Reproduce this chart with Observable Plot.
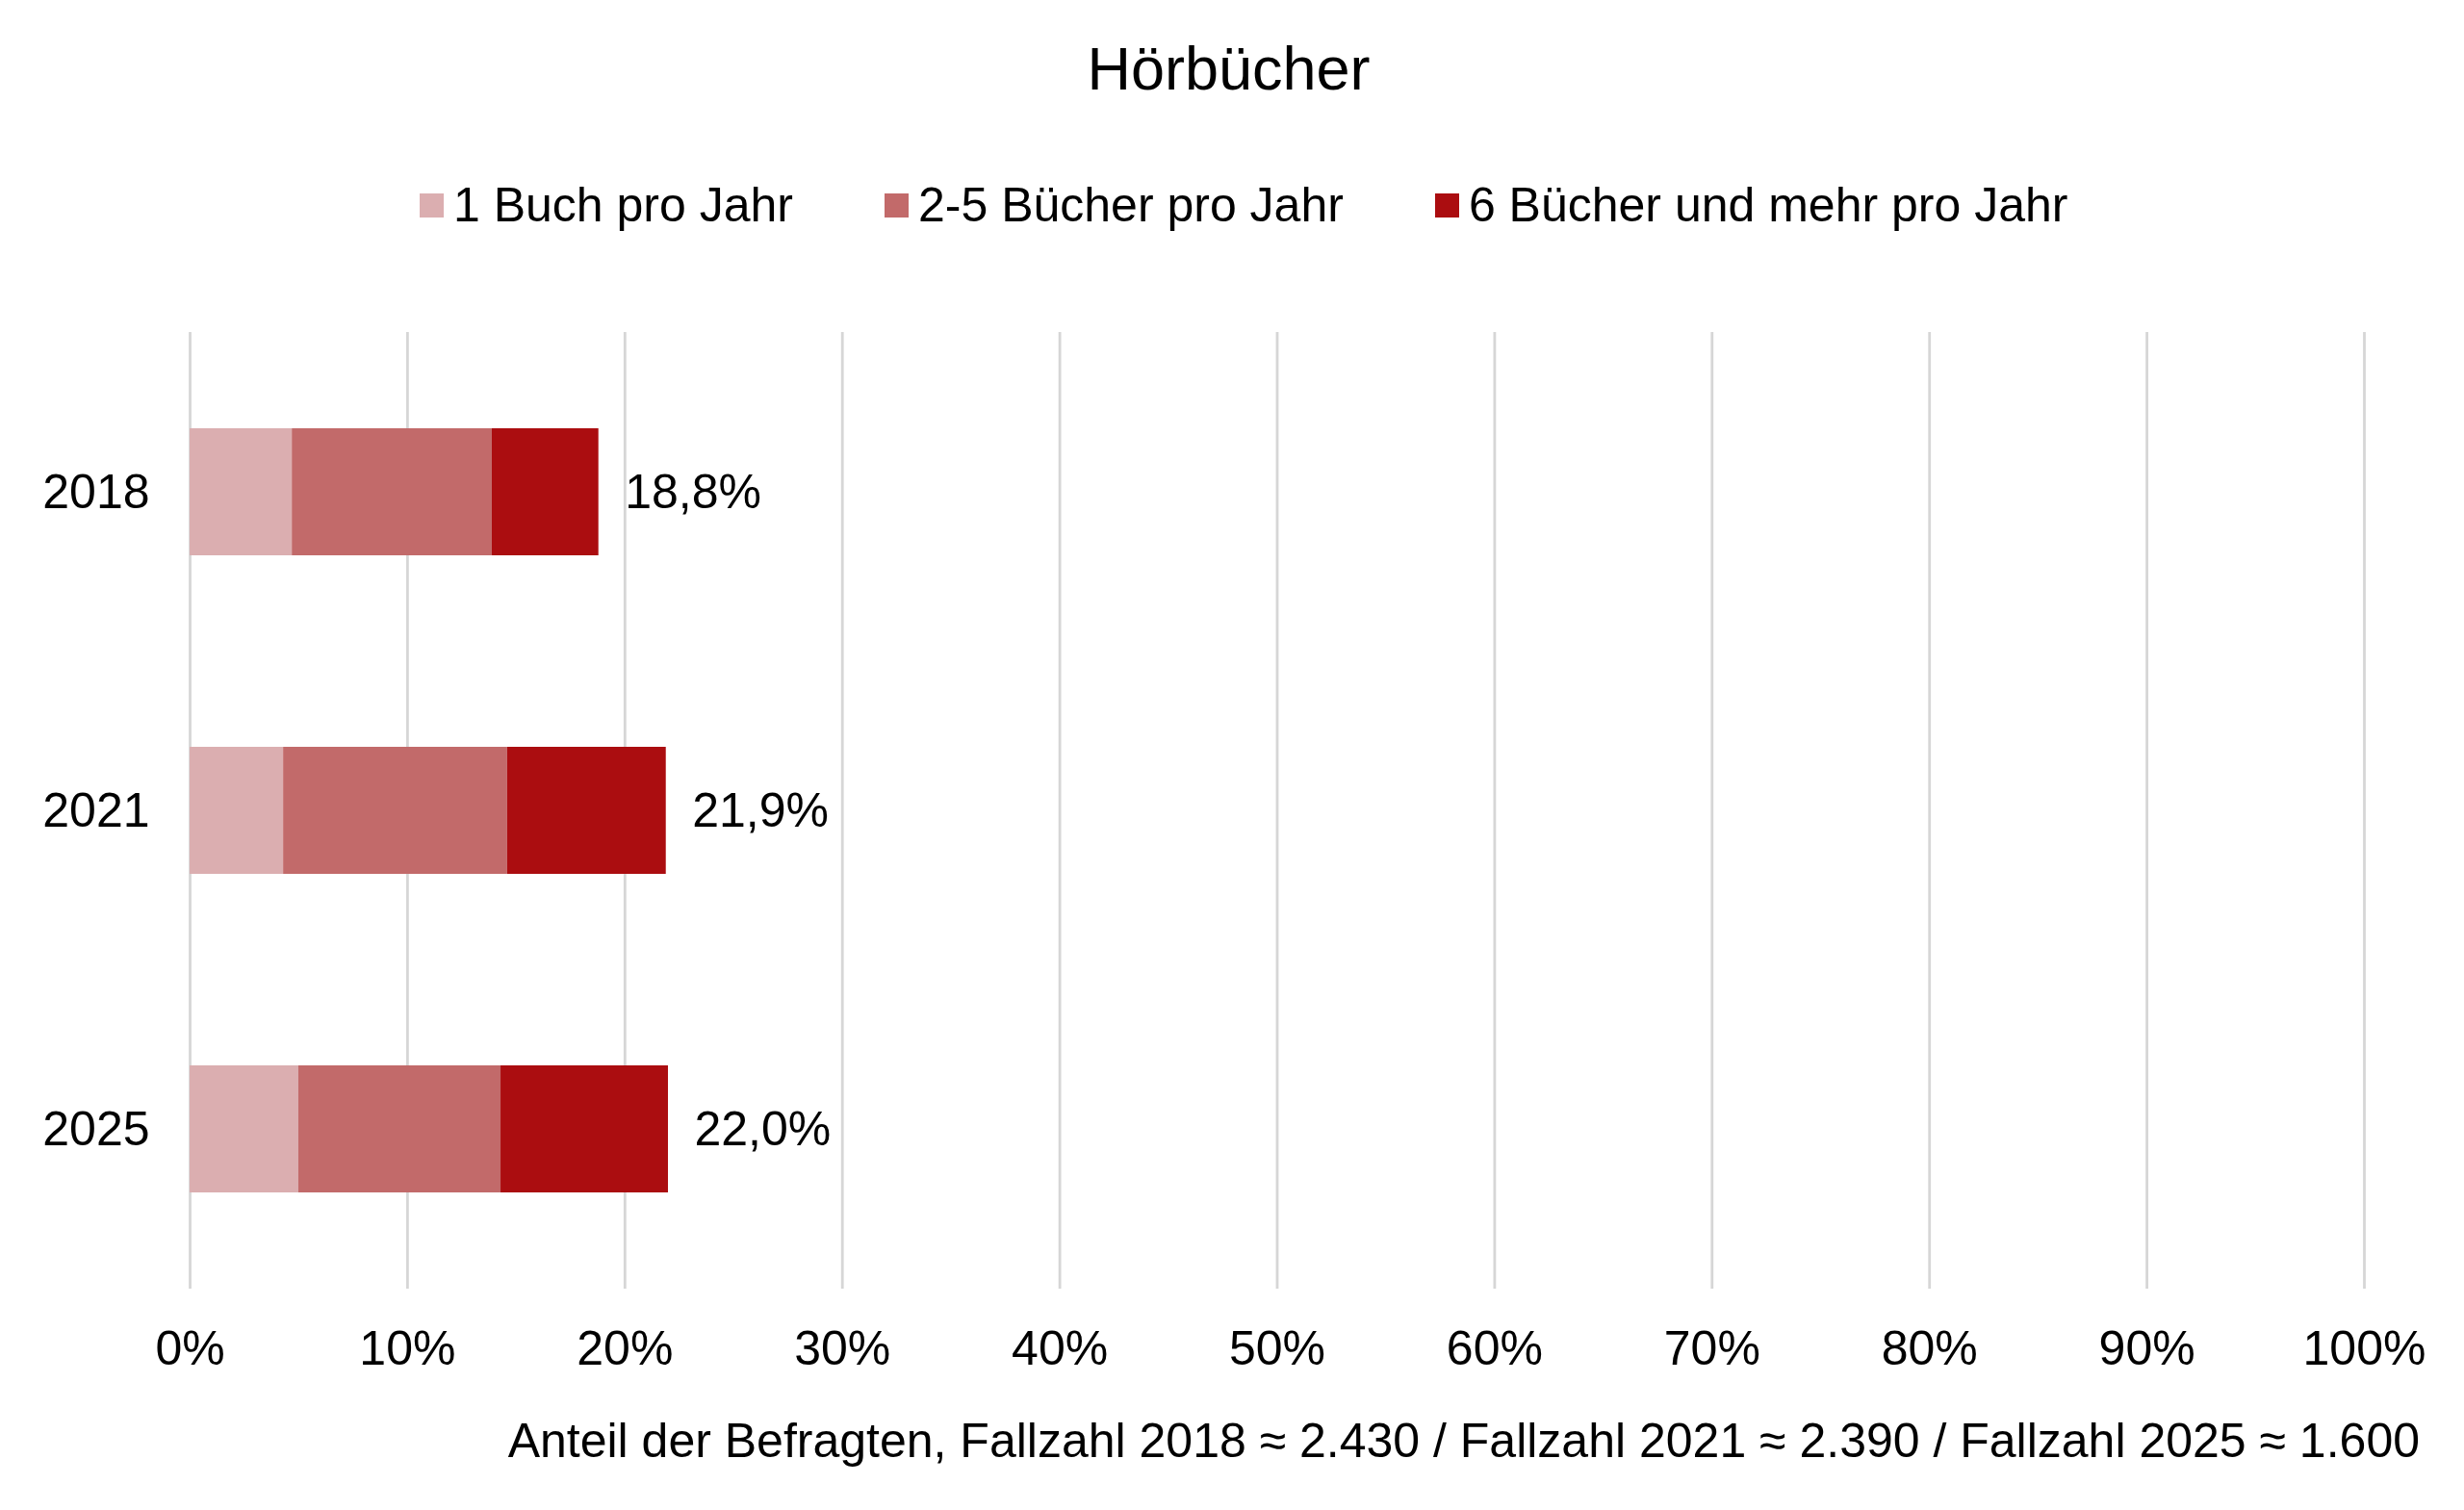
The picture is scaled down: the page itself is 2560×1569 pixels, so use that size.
<!DOCTYPE html>
<html>
<head>
<meta charset="utf-8">
<script src="https://cdn.jsdelivr.net/npm/d3@7"></script>
<script src="https://cdn.jsdelivr.net/npm/@observablehq/plot@0.6"></script>
<style>
  html, body { margin: 0; padding: 0; background: #fff; }
  body { width: 2560px; height: 1569px; position: relative; overflow: hidden;
         font-family: "Liberation Sans", Arial, sans-serif; color: #000; }
  #title { position: absolute; left: 0; width: 2553px; top: 40px; text-align: center;
           font-size: 63px; line-height: 63px; }
  #legend { position: absolute; left: 436px; top: 188px; height: 50px; display: flex; align-items: center;
            font-size: 50px; line-height: 50px; white-space: nowrap; }
  .item { display: flex; align-items: center; margin-right: 95px; }
  .sw { width: 25px; height: 25px; margin-right: 10px; }
  #chart { position: absolute; left: 0; top: 280px; }
  #caption { position: absolute; right: 46px; top: 1472px; font-size: 50px; line-height: 50px; white-space: nowrap; }
</style>
</head>
<body>
<div id="title">Hörbücher</div>
<div id="legend"></div>
<div id="chart"></div>
<div id="caption">Anteil der Befragten, Fallzahl 2018 ≈ 2.430 / Fallzahl 2021 ≈ 2.390 / Fallzahl 2025 ≈ 1.600</div>
<script>
const years = ["2018", "2021", "2025"];
const categories = ["1 Buch pro Jahr", "2-5 Bücher pro Jahr", "6 Bücher und mehr pro Jahr"];
const oneBook = [4.7, 4.3, 5.0];
const twoToFive = [9.2, 10.3, 9.3];
const sixPlus = [4.9, 7.3, 7.7];
const totals = [18.8, 21.9, 22.0];
const xTicks = [0, 10, 20, 30, 40, 50, 60, 70, 80, 90, 100];
const colors = ["#dbaeb0", "#c26a6a", "#ab0d10"];

const series = [oneBook, twoToFive, sixPlus];
const rows = [];
years.forEach((y, i) => {
  series.forEach((arr, j) => rows.push({ year: y, cat: categories[j], value: arr[i] }));
});
const totalsData = years.map((y, i) => ({ year: y, total: totals[i] }));

// legend
const legend = document.getElementById("legend");
categories.forEach((c, i) => {
  const item = document.createElement("div");
  item.className = "item";
  const sw = document.createElement("div");
  sw.className = "sw";
  sw.style.background = colors[i];
  const t = document.createElement("span");
  t.textContent = c;
  item.appendChild(sw);
  item.appendChild(t);
  legend.appendChild(item);
});

const fmt = v => v.toFixed(1).replace(".", ",") + "%";

const chart = Plot.plot({
  width: 2560,
  height: 1180,
  marginTop: 65,
  marginBottom: 121,
  marginLeft: 197,
  marginRight: 104,
  style: { fontFamily: '"Liberation Sans", Arial, sans-serif', fontSize: "50px", color: "#000", background: "#fff", overflow: "visible" },
  x: { domain: [0, 100] },
  y: { domain: years, paddingInner: 0.6, paddingOuter: 0.3 },
  color: { domain: categories, range: colors },
  marks: [
    Plot.gridX(xTicks, { stroke: "#d6d6d6", strokeOpacity: 1, strokeWidth: 2.8 }),
    Plot.axisX(xTicks, { tickSize: 0, tickPadding: 43, tickFormat: d => d + "%", fontSize: 50, label: null }),
    Plot.axisY({ tickSize: 0, tickPadding: 42, fontSize: 50, label: null }),
    Plot.barX(rows, { x: "value", y: "year", fill: "cat" }),
    Plot.text(totalsData, { x: "total", y: "year", text: d => fmt(d.total), dx: 27, textAnchor: "start", fontSize: 50, fill: "#000" })
  ]
});
document.getElementById("chart").appendChild(chart);
</script>
</body>
</html>
